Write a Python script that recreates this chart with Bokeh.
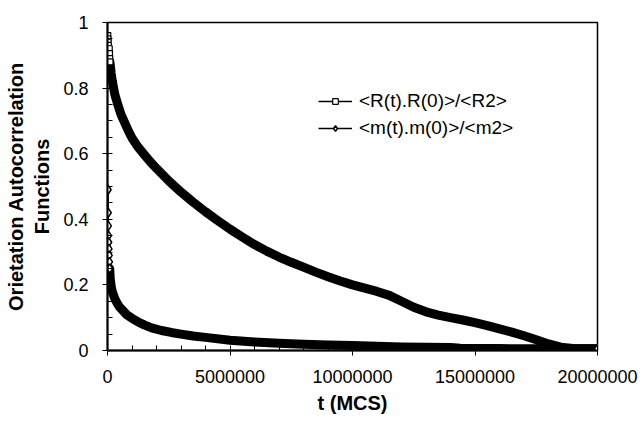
from bokeh.plotting import figure
from bokeh.models import (Range1d, FixedTicker, NumeralTickFormatter, CustomJSTickFormatter,
                          Legend, LegendItem)
from bokeh.embed import file_html
from bokeh.resources import INLINE

FONT = "Liberation Sans"

# ---- data (t in MCS) ----
# <R(t).R(0)>/<R2> : sparse first points, then dense band
r_early_t = [10000, 15000, 20000, 30000, 70000, 80000, 90000, 100000]
r_early_y = [0.960, 0.950, 0.940, 0.930, 0.920, 0.905, 0.890, 0.880]
r_t = [100000, 150000, 200000, 300000, 400000, 550000, 700000, 850000, 1000000,
       1250000, 1500000, 1750000, 2000000, 2500000, 3000000, 3500000, 4000000,
       4500000, 5000000, 5500000, 6000000, 6500000, 7000000, 7500000, 8000000,
       8500000, 9000000, 9500000, 10000000, 10500000, 11000000, 11500000,
       12000000, 12500000, 13000000, 13500000, 14000000, 14500000, 15000000,
       15500000, 16000000, 16500000, 17000000, 17500000, 18000000, 18500000,
       19000000, 19500000, 20000000]
r_y = [0.880, 0.845, 0.820, 0.780, 0.755, 0.720, 0.695, 0.670, 0.648,
       0.620, 0.597, 0.575, 0.555, 0.517, 0.483, 0.452, 0.423,
       0.396, 0.370, 0.346, 0.323, 0.303, 0.285, 0.269, 0.254,
       0.239, 0.225, 0.212, 0.200, 0.190, 0.180, 0.168,
       0.150, 0.132, 0.118, 0.108, 0.100, 0.093, 0.085,
       0.076, 0.066, 0.056, 0.045, 0.033, 0.020, 0.010,
       0.006, 0.005, 0.005]

# <m(t).m(0)>/<m2>
m_early_t = [25000, 30000, 35000, 40000, 50000, 60000, 70000, 80000, 90000]
m_early_y = [0.490, 0.420, 0.380, 0.350, 0.330, 0.310, 0.290, 0.270, 0.250]
m_t = [90000, 110000, 150000, 200000, 300000, 400000, 500000, 650000, 800000,
       1000000, 1250000, 1500000, 1800000, 2200000, 2600000, 3000000, 3500000,
       4000000, 5000000, 6000000, 7000000, 8000000, 9000000, 10000000, 11000000,
       12000000, 13000000, 14000000, 14400000, 15000000, 16000000, 17000000,
       18000000, 19000000, 20000000]
m_y = [0.250, 0.222, 0.195, 0.178, 0.158, 0.143, 0.132, 0.120, 0.108,
       0.098, 0.087, 0.078, 0.069, 0.061, 0.055, 0.050, 0.044,
       0.040, 0.031, 0.026, 0.022, 0.019, 0.017, 0.015, 0.013,
       0.011, 0.010, 0.009, 0.007, 0.006, 0.006, 0.005,
       0.005, 0.005, 0.005]
m_last_t = [20000000]
m_last_y = [0.005]

x_ticks = [0, 5000000, 10000000, 15000000, 20000000]
x_minor = [i * 1000000 for i in range(21)]
y_ticks = [0, 0.2, 0.4, 0.6, 0.8, 1.0]
y_minor = [i * 0.05 for i in range(21)]

label_r = "<R(t).R(0)>/<R2>"
label_m = "<m(t).m(0)>/<m2>"

p = figure(width=642, height=430, output_backend="svg", toolbar_location=None,
           x_range=Range1d(0, 20000000), y_range=Range1d(0, 1),
           min_border_left=107, min_border_right=45, min_border_top=22, min_border_bottom=80)
p.background_fill_color = "white"
p.border_fill_color = "white"
p.outline_line_color = "black"
p.outline_line_width = 1.5
p.grid.visible = False

# dense bands
p.line(r_t, r_y, line_color="black", line_width=9, line_cap="round", line_join="round")
p.line(m_t, m_y, line_color="black", line_width=9, line_cap="round", line_join="round")
# sparse first points: thin connecting line + open markers
r_ln = p.line(r_early_t, r_early_y, line_color="black", line_width=1.5)
m_ln = p.line(m_early_t, m_early_y, line_color="black", line_width=1.5)
r_mk = p.scatter(r_early_t, r_early_y, marker="square", size=6, line_color="black",
                 fill_color="white", line_width=1.2)
m_mk = p.scatter(m_early_t, m_early_y, marker="diamond", size=9, line_color="black",
                 fill_color="white", line_width=1.5)
p.scatter(m_last_t, m_last_y, marker="diamond", size=9, line_color="black",
          fill_color="white", line_width=1.5)

legend = Legend(items=[LegendItem(label=label_r, renderers=[r_ln, r_mk]),
                       LegendItem(label=label_m, renderers=[m_ln, m_mk])],
                location=(211, 211), orientation="vertical",
                glyph_width=34, glyph_height=14, label_height=20, spacing=5,
                label_standoff=7, padding=0, margin=0,
                border_line_color=None, background_fill_alpha=0,
                label_text_font=FONT, label_text_font_size="19px", label_text_color="black")
p.add_layout(legend)

# axes
p.xaxis.ticker = FixedTicker(ticks=x_ticks, minor_ticks=x_minor)
p.yaxis.ticker = FixedTicker(ticks=y_ticks, minor_ticks=y_minor)
p.xaxis.formatter = NumeralTickFormatter(format="0")
p.yaxis.formatter = CustomJSTickFormatter(code="return tick.toFixed(1).replace(/\\.0$/, '');")
for ax in (p.xaxis[0], p.yaxis[0]):
    ax.axis_line_color = "black"
    ax.axis_line_width = 2
    ax.major_tick_line_color = "black"
    ax.minor_tick_line_color = "black"
    ax.major_tick_in = 4
    ax.major_tick_out = 5
    ax.minor_tick_in = 5
    ax.minor_tick_out = 0
    ax.major_label_text_font = FONT
    ax.major_label_text_font_size = "18px"
    ax.major_label_text_color = "black"
    ax.axis_label_text_font = FONT
    ax.axis_label_text_font_size = "20px"
    ax.axis_label_text_font_style = "bold"
    ax.axis_label_text_color = "black"

p.xaxis.axis_label = "t (MCS)"
p.xaxis.major_label_standoff = 14
p.xaxis.axis_label_standoff = 6
p.yaxis.axis_label = "Orietation Autocorrelation\nFunctions"
p.yaxis.major_label_standoff = 14
p.yaxis.axis_label_standoff = 7

open("out.html", "w").write(file_html(p, INLINE))
